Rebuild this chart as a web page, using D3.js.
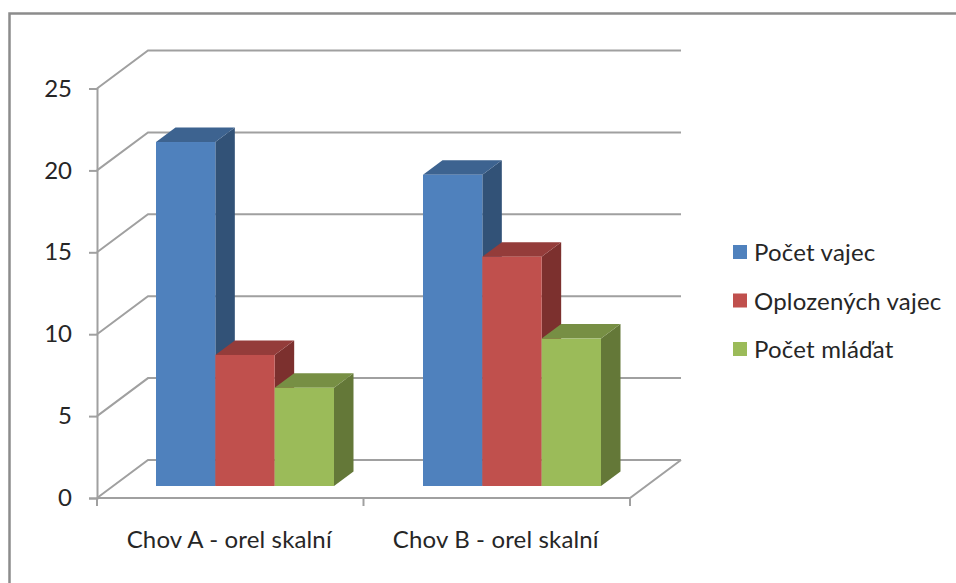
<!DOCTYPE html>
<html>
<head>
<meta charset="utf-8">
<script src="https://cdn.jsdelivr.net/npm/d3@7"></script>
<style>
  html, body { margin: 0; padding: 0; background: #fff; }
  svg { display: block; }
  text { font-family: Lato, "Open Sans", sans-serif; fill: #262626; }
</style>
</head>
<body>
<svg id="chart" width="956" height="583"></svg>
<script>
// Chart content
const categories = ["Chov A - orel skalní", "Chov B - orel skalní"];
const seriesNames = ["Počet vajec", "Oplozených vajec", "Počet mláďat"];
const vajec = [21, 19];
const oplozenych = [8, 14];
const mladat = [6, 9];
const seriesValues = [vajec, oplozenych, mladat];
const yTicks = [0, 5, 10, 15, 20, 25];
const frontColors = ["#4f81bd", "#c0504d", "#9bbb59"];
const topColors = ["#3d6390", "#943c3a", "#778f44"];
const sideColors = ["#325277", "#7c302e", "#647838"];

const GRID = "#a0a0a0";
const svg = d3.select("#chart");

// Frame around the chart area
svg.append("path")
  .attr("d", "M9.5,583V13.5H956")
  .attr("fill", "none").attr("stroke", "#8c8c8c").attr("stroke-width", 2.5);

// Front plane of the 3D box, and how far the back wall is shifted from it
const y = d3.scaleLinear().domain([0, 25]).range([498, 88.5]);
const x0 = d3.scaleBand().domain(categories).range([97, 630]);
const wallDx = 51, wallDy = -38;

const grid = svg.append("g").attr("fill", "none").attr("stroke", GRID).attr("stroke-width", 2);

// Gridlines: slanted on the side wall, then straight across the back wall
grid.selectAll("path.gridline").data(yTicks).join("path")
  .attr("class", "gridline")
  .attr("d", d => {
    const yy = y(d);
    return `M${x0.range()[0]},${yy}L${x0.range()[0] + wallDx},${yy + wallDy}H${x0.range()[1] + wallDx}`;
  });

// Floor front and right edges
grid.append("path")
  .attr("d", `M${x0.range()[0]},${y(0)}H${x0.range()[1]}L${x0.range()[1] + wallDx},${y(0) + wallDy}`);

// Value axis with outward ticks
const yAxis = svg.append("g").attr("transform", `translate(${x0.range()[0]},0)`)
  .call(d3.axisLeft(y).tickValues(yTicks).tickSize(8).tickPadding(17));
yAxis.selectAll("path.domain").attr("stroke", GRID).attr("stroke-width", 2);
yAxis.selectAll("line").attr("stroke", GRID).attr("stroke-width", 2);
yAxis.selectAll("text").attr("font-size", 24).attr("fill", "#262626")
  .style("font-family", "Lato, 'Open Sans', sans-serif");
yAxis.attr("font-family", null);

// Category axis: ticks fall on the band boundaries, labels in the band centres
const xTickPositions = [x0.range()[0], x0.range()[0] + x0.bandwidth(), x0.range()[1]];
svg.append("g").selectAll("line").data(xTickPositions).join("line")
  .attr("x1", d => d).attr("x2", d => d)
  .attr("y1", y(0)).attr("y2", y(0) + 8)
  .attr("stroke", GRID).attr("stroke-width", 2);

svg.append("g").selectAll("text").data(categories).join("text")
  .attr("x", d => x0(d) + x0.bandwidth() / 2 - 1)
  .attr("y", 548)
  .attr("text-anchor", "middle")
  .attr("font-size", 24)
  .attr("letter-spacing", 0.15)
  .text(d => d);

// Bars: the depth is a fraction of the wall shift, sitting inside the box
const barFloor = 486;
const barDx = 19.5, barDy = -14.5;
const unit = y(0) - y(1);
const clusterWidth = 178;
const x1 = d3.scaleBand().domain(d3.range(seriesNames.length)).range([0, clusterWidth]);
const clusterLeft = c => x0(categories[c]) + 59 + (c === 1 ? 0.5 : 0);

const bars = svg.append("g");
categories.forEach((cat, c) => {
  seriesNames.forEach((name, s) => {
    const v = seriesValues[s][c];
    const left = clusterLeft(c) + x1(s);
    const w = x1.bandwidth();
    const top = barFloor - v * unit;
    const g = bars.append("g");
    g.append("path").attr("fill", sideColors[s])
      .attr("d", `M${left + w},${top}l${barDx},${barDy}V${barFloor + barDy}L${left + w},${barFloor}Z`);
    g.append("path").attr("fill", topColors[s])
      .attr("d", `M${left},${top}l${barDx},${barDy}h${w}l${-barDx},${-barDy}Z`);
    g.append("rect").attr("fill", frontColors[s])
      .attr("x", left).attr("y", top).attr("width", w).attr("height", barFloor - top);
  });
});

// Legend
const legendY = d3.scalePoint().domain(seriesNames).range([252, 349]);
const legend = svg.append("g");
legend.selectAll("rect").data(seriesNames).join("rect")
  .attr("x", 733).attr("y", d => legendY(d) - 7)
  .attr("width", 14).attr("height", 14)
  .attr("fill", (d, i) => frontColors[i]);
legend.selectAll("text").data(seriesNames).join("text")
  .attr("x", 754).attr("y", d => legendY(d) + 9)
  .attr("font-size", 24)
  .attr("letter-spacing", 0.2)
  .text(d => d);
</script>
</body>
</html>
